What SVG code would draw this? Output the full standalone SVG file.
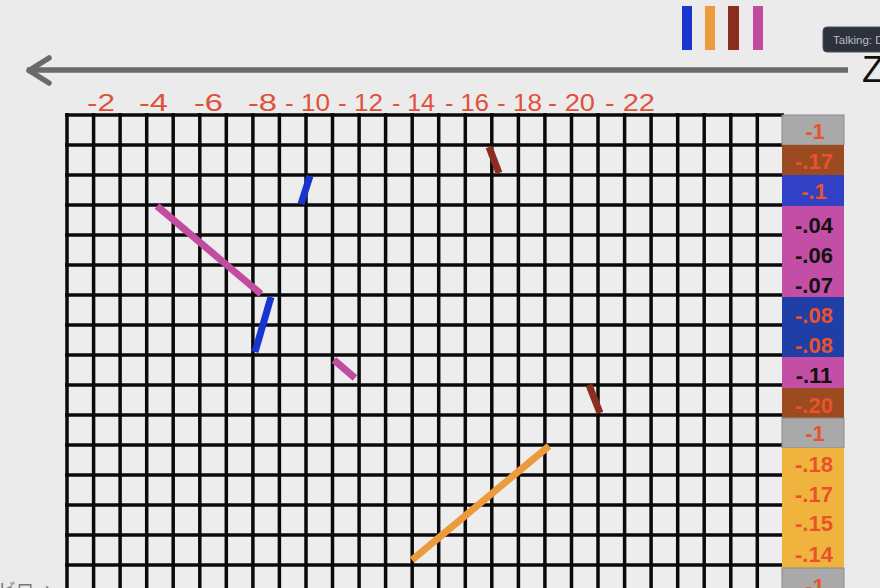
<svg xmlns="http://www.w3.org/2000/svg" width="880" height="588" viewBox="0 0 880 588">
<style>
.lbl{font-family:"Liberation Sans","Open Sans",sans-serif;font-size:24px;fill:#e0503a}
.val{font-family:"Liberation Sans",Arial,sans-serif;font-size:22px;font-weight:bold;text-anchor:middle}
.r{fill:#e8532c}
.k{fill:#111}
.grid line{stroke:#0a0a0a;stroke-width:3.5}
.seg{stroke-width:7;stroke-linecap:butt;fill:none}
</style>
<rect x="0" y="0" width="880" height="588" fill="#ebebeb"/>

<g id="legend-bars">
<rect x="682" y="6" width="10" height="44" fill="#1836cf"/>
<rect x="705" y="6" width="10" height="44" fill="#ec9a3c"/>
<rect x="728" y="6" width="11" height="44" fill="#8b2e1f"/>
<rect x="753" y="6" width="10" height="44" fill="#c34b9f"/>
</g>

<g id="tooltip">
<rect x="823" y="27" width="70" height="25" rx="4" fill="#2c313b" stroke="#4a505a" stroke-width="1"/>
<text x="833" y="44" font-family="Liberation Sans,sans-serif" font-size="11.5" fill="#b9bdc4">Talking: D</text>
</g>

<g id="axis">
<line x1="27" y1="70" x2="848" y2="70" stroke="#6a6a6a" stroke-width="5.5"/>
<polyline points="49,58 29,70.5 49,83" fill="none" stroke="#6a6a6a" stroke-width="5.5" stroke-linecap="round" stroke-linejoin="round"/>
<text x="862" y="82" font-family="Liberation Sans,sans-serif" font-size="36" fill="#111">Z</text>
</g>

<g id="labels">
<text class="lbl" x="87" y="111" textLength="28" lengthAdjust="spacingAndGlyphs">-2</text>
<text class="lbl" x="139" y="111" textLength="29" lengthAdjust="spacingAndGlyphs">-4</text>
<text class="lbl" x="194" y="111" textLength="29" lengthAdjust="spacingAndGlyphs">-6</text>
<text class="lbl" x="248" y="111" textLength="29" lengthAdjust="spacingAndGlyphs">-8</text>
<text class="lbl" x="285" y="111" textLength="45" lengthAdjust="spacingAndGlyphs">- 10</text>
<text class="lbl" x="338" y="111" textLength="45" lengthAdjust="spacingAndGlyphs">- 12</text>
<text class="lbl" x="392" y="111" textLength="43" lengthAdjust="spacingAndGlyphs">- 14</text>
<text class="lbl" x="445" y="111" textLength="44" lengthAdjust="spacingAndGlyphs">- 16</text>
<text class="lbl" x="497" y="111" textLength="45" lengthAdjust="spacingAndGlyphs">- 18</text>
<text class="lbl" x="548" y="111" textLength="47" lengthAdjust="spacingAndGlyphs">- 20</text>
<text class="lbl" x="605" y="111" textLength="50" lengthAdjust="spacingAndGlyphs">- 22</text>
</g>

<g id="grid" class="grid">
<rect x="67" y="115" width="717" height="480" fill="#ededed"/>
<line x1="67" y1="113" x2="67" y2="588"/><line x1="93.6" y1="113" x2="93.6" y2="588"/><line x1="120.1" y1="113" x2="120.1" y2="588"/><line x1="146.7" y1="113" x2="146.7" y2="588"/><line x1="173.2" y1="113" x2="173.2" y2="588"/><line x1="199.8" y1="113" x2="199.8" y2="588"/><line x1="226.3" y1="113" x2="226.3" y2="588"/><line x1="252.9" y1="113" x2="252.9" y2="588"/><line x1="279.4" y1="113" x2="279.4" y2="588"/><line x1="306" y1="113" x2="306" y2="588"/><line x1="332.5" y1="113" x2="332.5" y2="588"/><line x1="359.1" y1="113" x2="359.1" y2="588"/><line x1="385.6" y1="113" x2="385.6" y2="588"/><line x1="412.2" y1="113" x2="412.2" y2="588"/><line x1="438.7" y1="113" x2="438.7" y2="588"/><line x1="465.3" y1="113" x2="465.3" y2="588"/><line x1="491.8" y1="113" x2="491.8" y2="588"/><line x1="518.4" y1="113" x2="518.4" y2="588"/><line x1="544.9" y1="113" x2="544.9" y2="588"/><line x1="571.5" y1="113" x2="571.5" y2="588"/><line x1="598" y1="113" x2="598" y2="588"/><line x1="624.6" y1="113" x2="624.6" y2="588"/><line x1="651.1" y1="113" x2="651.1" y2="588"/><line x1="677.7" y1="113" x2="677.7" y2="588"/><line x1="704.2" y1="113" x2="704.2" y2="588"/><line x1="730.8" y1="113" x2="730.8" y2="588"/><line x1="757.3" y1="113" x2="757.3" y2="588"/>
<line x1="65" y1="115" x2="784" y2="115"/><line x1="65" y1="145" x2="784" y2="145"/><line x1="65" y1="175" x2="784" y2="175"/><line x1="65" y1="205" x2="784" y2="205"/><line x1="65" y1="235" x2="784" y2="235"/><line x1="65" y1="265" x2="784" y2="265"/><line x1="65" y1="295" x2="784" y2="295"/><line x1="65" y1="325" x2="784" y2="325"/><line x1="65" y1="355" x2="784" y2="355"/><line x1="65" y1="385" x2="784" y2="385"/><line x1="65" y1="415" x2="784" y2="415"/><line x1="65" y1="445" x2="784" y2="445"/><line x1="65" y1="475" x2="784" y2="475"/><line x1="65" y1="505" x2="784" y2="505"/><line x1="65" y1="535" x2="784" y2="535"/><line x1="65" y1="565" x2="784" y2="565"/>
</g>

<g id="segments">
<line class="seg" x1="157" y1="206" x2="261" y2="294" stroke="#c24ca0"/>
<line class="seg" x1="310" y1="176" x2="301" y2="204" stroke="#1836cf"/>
<line class="seg" x1="271" y1="297" x2="255" y2="352" stroke="#1836cf"/>
<line class="seg" x1="334" y1="360" x2="355" y2="378" stroke="#c24ca0"/>
<line class="seg" x1="489" y1="147" x2="499" y2="173" stroke="#8b2e1f" stroke-width="8"/>
<line class="seg" x1="589" y1="385" x2="600" y2="413" stroke="#8b2e1f"/>
<line class="seg" x1="412" y1="560" x2="549" y2="446" stroke="#ec9a3c"/>
</g>

<g id="values">
<rect x="782" y="115" width="62" height="30" fill="#a9a9a9" stroke="#8a8a8a" stroke-width="1"/>
<rect x="782" y="145" width="62" height="30" fill="#9c4a20"/>
<rect x="782" y="175" width="62" height="31" fill="#3140c4"/>
<rect x="782" y="206" width="62" height="91" fill="#c24fa5"/>
<rect x="782" y="297" width="62" height="60" fill="#1f3ea6"/>
<rect x="782" y="357" width="62" height="31" fill="#c24fa5"/>
<rect x="782" y="388" width="62" height="30" fill="#9c4a20"/>
<rect x="782" y="418" width="62" height="30" fill="#a9a9a9" stroke="#8a8a8a" stroke-width="1"/>
<rect x="782" y="448" width="62" height="120" fill="#f0b43e"/>
<rect x="782" y="568" width="62" height="30" fill="#a9a9a9" stroke="#8a8a8a" stroke-width="1"/>
<text class="val r" x="815" y="139">-1</text>
<text class="val r" x="814" y="169">-.17</text>
<text class="val r" x="814" y="199">-.1</text>
<text class="val k" x="814" y="233">-.04</text>
<text class="val k" x="814" y="263">-.06</text>
<text class="val k" x="814" y="293">-.07</text>
<text class="val r" x="814" y="323">-.08</text>
<text class="val r" x="814" y="353">-.08</text>
<text class="val k" x="814" y="383">-.11</text>
<text class="val r" x="814" y="413">-.20</text>
<text class="val r" x="815" y="441">-1</text>
<text class="val r" x="814" y="472">-.18</text>
<text class="val r" x="814" y="502">-.17</text>
<text class="val r" x="814" y="531">-.15</text>
<text class="val r" x="814" y="562">-.14</text>
<text class="val r" x="815" y="594">-1</text>
</g>

<text x="-2" y="597" font-family="Noto Sans CJK JP,sans-serif" font-size="18" fill="#777">ビロ→</text>
</svg>
